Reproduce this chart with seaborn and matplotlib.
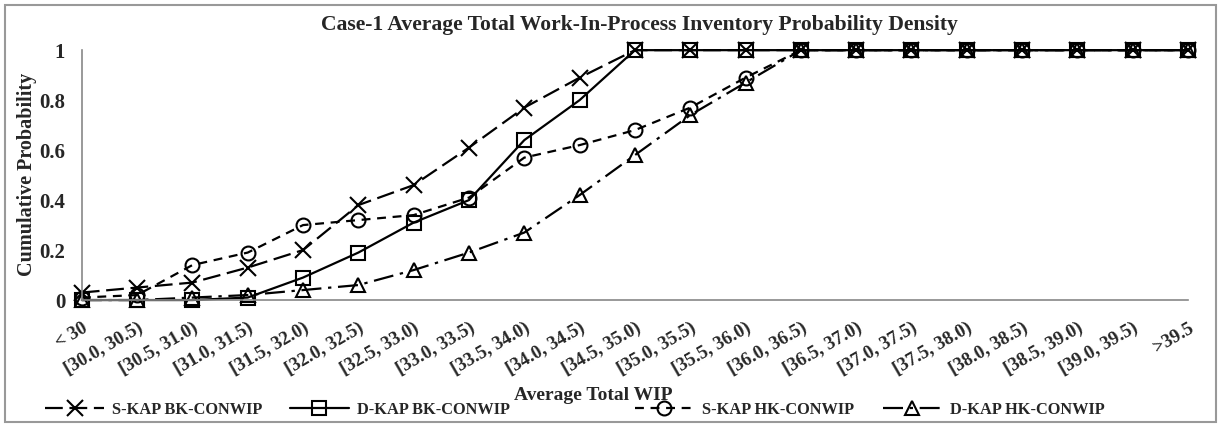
import matplotlib
matplotlib.use("Agg")
import matplotlib.pyplot as plt
import seaborn as sns
import pandas as pd
from matplotlib.patches import Rectangle

# Data
bins = ["< 30", "[30.0, 30.5)", "[30.5, 31.0)", "[31.0, 31.5)", "[31.5, 32.0)",
        "[32.0, 32.5)", "[32.5, 33.0)", "[33.0, 33.5)", "[33.5, 34.0)",
        "[34.0, 34.5)", "[34.5, 35.0)", "[35.0, 35.5)", "[35.5, 36.0)",
        "[36.0, 36.5)", "[36.5, 37.0)", "[37.0, 37.5)", "[37.5, 38.0)",
        "[38.0, 38.5)", "[38.5, 39.0)", "[39.0, 39.5)", ">39.5"]
s_kap_bk = [0.03, 0.05, 0.07, 0.13, 0.20, 0.38, 0.46, 0.61, 0.77, 0.89, 1.0,
            1.0, 1.0, 1.0, 1.0, 1.0, 1.0, 1.0, 1.0, 1.0, 1.0]
d_kap_bk = [0.0, 0.0, 0.0, 0.01, 0.09, 0.19, 0.31, 0.40, 0.64, 0.80, 1.0,
            1.0, 1.0, 1.0, 1.0, 1.0, 1.0, 1.0, 1.0, 1.0, 1.0]
s_kap_hk = [0.01, 0.02, 0.14, 0.19, 0.30, 0.32, 0.34, 0.41, 0.57, 0.62, 0.68,
            0.77, 0.89, 1.0, 1.0, 1.0, 1.0, 1.0, 1.0, 1.0, 1.0]
d_kap_hk = [0.0, 0.0, 0.01, 0.02, 0.04, 0.06, 0.12, 0.19, 0.27, 0.42, 0.58,
            0.74, 0.87, 1.0, 1.0, 1.0, 1.0, 1.0, 1.0, 1.0, 1.0]

series = {
    "S-KAP BK-CONWIP": (s_kap_bk, "x", (8, 3)),
    "D-KAP BK-CONWIP": (d_kap_bk, "s", ""),
    "S-KAP HK-CONWIP": (s_kap_hk, "o", (4, 3)),
    "D-KAP HK-CONWIP": (d_kap_hk, "^", (9, 3, 1.5, 3)),
}

sns.set_style("white")
plt.rcParams["font.family"] = ["Liberation Serif", "DejaVu Serif"]
plt.rcParams["font.weight"] = "bold"

fig = plt.figure(figsize=(12.21, 4.25), dpi=100)
ax = fig.add_axes([0.067, 0.294, 0.906, 0.588])

x = list(range(len(bins)))
for name, (vals, mk, dash) in series.items():
    df = pd.DataFrame({"x": x, "y": vals})
    sns.lineplot(data=df, x="x", y="y", ax=ax, color="black", lw=1.6,
                 marker=mk, markersize=10 if mk != "x" else 11,
                 markerfacecolor="none" if mk != "x" else "black",
                 markeredgecolor="black", markeredgewidth=1.5,
                 label=name, clip_on=False)
    ln = ax.get_lines()[-1]
    if dash:
        ln.set_dashes(dash)
    else:
        ln.set_linestyle("-")

ax.set_xlim(0, len(bins) - 1)
ax.set_ylim(0, 1)
ax.set_xticks(x)
ax.set_xticklabels(bins, rotation=30, ha="right", rotation_mode="anchor",
                   fontsize=13.5, fontweight="bold")
ax.set_yticks([0, 0.2, 0.4, 0.6, 0.8, 1.0])
ax.set_yticklabels(["0", "0.2", "0.4", "0.6", "0.8", "1"], fontsize=15,
                   fontweight="bold")
ax.tick_params(axis="both", direction="out", length=5, width=1, color="#888888")
ax.tick_params(axis="y", pad=7)
ax.tick_params(axis="x", pad=9)
for side in ["top", "right"]:
    ax.spines[side].set_visible(False)
for side in ["left", "bottom"]:
    ax.spines[side].set_color("#888888")
    ax.spines[side].set_linewidth(1.2)

ax.set_xlabel("")
ax.set_ylabel("")
fig.text(0.022, 0.59, "Cumulative Probability", rotation=90, ha="center",
         va="center", fontsize=14.5, fontweight="bold")
fig.text(0.486, 0.07, "Average Total WIP", ha="center", va="center",
         fontsize=14, fontweight="bold")
fig.text(0.524, 0.941, "Case-1 Average Total Work-In-Process Inventory Probability Density",
         ha="center", va="center", fontsize=15.6, fontweight="bold")

ax.get_legend().remove()
handles, labels = ax.get_legend_handles_labels()
legend_x = [0.037, 0.2375, 0.52, 0.723]
for h, lab, lx in zip(handles, labels, legend_x):
    fig.legend([h], [lab], loc="center left", bbox_to_anchor=(lx, 0.035),
               frameon=False, handlelength=3.6, handletextpad=0.5,
               prop={"size": 11.8, "weight": "bold"}, borderpad=0,
               borderaxespad=0)

fig.patches.append(Rectangle((0.004, 0.008), 0.992, 0.98, transform=fig.transFigure,
                             fill=False, edgecolor="#999999", lw=1.5))

fig.savefig("out.png", dpi=100)
